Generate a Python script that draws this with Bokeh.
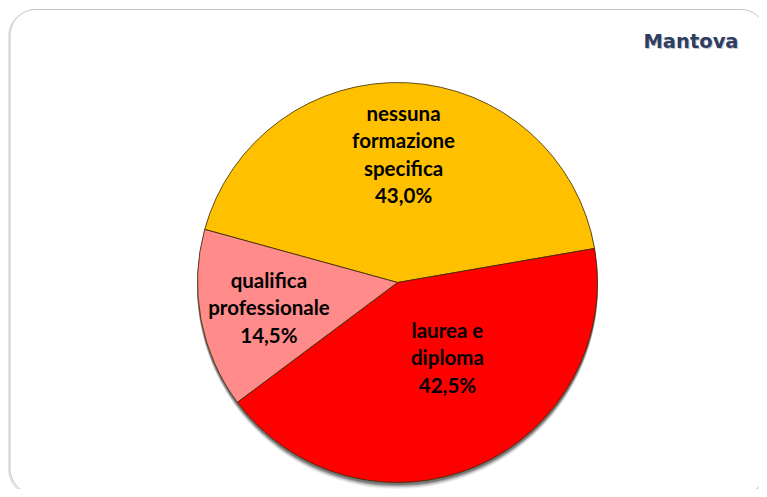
import numpy as np
from bokeh.plotting import figure
from bokeh.models import ColumnDataSource, Range1d
from bokeh.core.properties import value
from bokeh.embed import file_html
from bokeh.resources import INLINE

# ---- data ----
categories = ["nessuna formazione specifica", "laurea e diploma", "qualifica professionale"]
label_lines = [["nessuna", "formazione", "specifica"], ["laurea e", "diploma"], ["qualifica", "professionale"]]
shares = [43.0, 42.5, 14.5]
colors = ["#FFC000", "#FF0000", "#FF8B8B"]
title = "Mantova"

# ---- layout ----
W, H = 759, 489
CX, CY, R = 397, H - 282, 200
START_DEG = 164.6
label_pos = [(87.3, 0.643), (-56.3, 0.45), (191.0, 0.655)]  # (angle deg, radius fraction)
LINE_H = 27.5
FONT = "Lato"

p = figure(width=W, height=H, output_backend="svg", toolbar_location=None,
           x_range=Range1d(0, W), y_range=Range1d(0, H), min_border=0,
           background_fill_color="white", border_fill_color="white")
p.axis.visible = False
p.grid.visible = False
p.outline_line_color = None

# rounded frame
def rounded_rect(x0, y0, x1, y1, r, n=20):
    xs, ys = [], []
    corners = [(x1 - r, y1 - r, 0, 90), (x0 + r, y1 - r, 90, 180),
               (x0 + r, y0 + r, 180, 270), (x1 - r, y0 + r, 270, 360)]
    for cx, cy, a0, a1 in corners:
        t = np.radians(np.linspace(a0, a1, n))
        xs.extend(cx + r * np.cos(t)); ys.extend(cy + r * np.sin(t))
    return xs, ys

fx, fy = rounded_rect(9.5, H - 494, 766, H - 9, 26)
sx, sy = rounded_rect(8.5, H - 495, 765, H - 10, 26)
p.patch(sx, sy, fill_color=None, line_color="#E6E6E6", line_width=2)
p.patch(fx, fy, fill_color="white", line_color="#C4C4C4", line_width=1)

# pie shadow
for off, a in [(6, 0.06), (5, 0.08), (4, 0.12), (3, 0.18), (2, 0.25)]:
    p.circle(x=[CX], y=[CY - off], radius=R + 0.5, fill_color="black", fill_alpha=a, line_color=None)

# wedges
fr = np.array(shares) / sum(shares)
ends = np.radians(START_DEG) - 2 * np.pi * np.cumsum(fr)
starts = np.concatenate([[np.radians(START_DEG)], ends[:-1]])
src = ColumnDataSource(dict(cat=categories, start=starts, end=ends, color=colors))
p.wedge(x=CX, y=CY, radius=R, start_angle="start", end_angle="end", direction="clock",
        fill_color="color", line_color="#3A2A00", line_width=0.8, source=src)

# labels
lx, ly, lt = [], [], []
for lines, share, (ang, rf) in zip(label_lines, shares, label_pos):
    rows = lines + [f"{share:.1f}%".replace(".", ",")]
    bx = CX + rf * R * np.cos(np.radians(ang))
    by = CY + rf * R * np.sin(np.radians(ang))
    n = len(rows)
    for i, t in enumerate(rows):
        lx.append(bx); ly.append(by + (n - 1) / 2 * LINE_H - i * LINE_H); lt.append(t)
p.text(x=lx, y=ly, text=lt, text_align="center", text_baseline="middle",
       text_font=value(FONT), text_font_style="bold", text_font_size="20.5px", text_color="black")

# title
p.text(x=[739], y=[H - 42], text=[title], text_align="right", text_baseline="middle",
       text_font=value("DejaVu Sans"), text_font_style="bold", text_font_size="19.5px",
       text_color="#9AA3B5", text_alpha=0.6)
p.text(x=[738], y=[H - 41], text=[title], text_align="right", text_baseline="middle",
       text_font=value("DejaVu Sans"), text_font_style="bold", text_font_size="19.5px",
       text_color="#2F3E60")

open("out.html", "w").write(file_html(p, INLINE))
